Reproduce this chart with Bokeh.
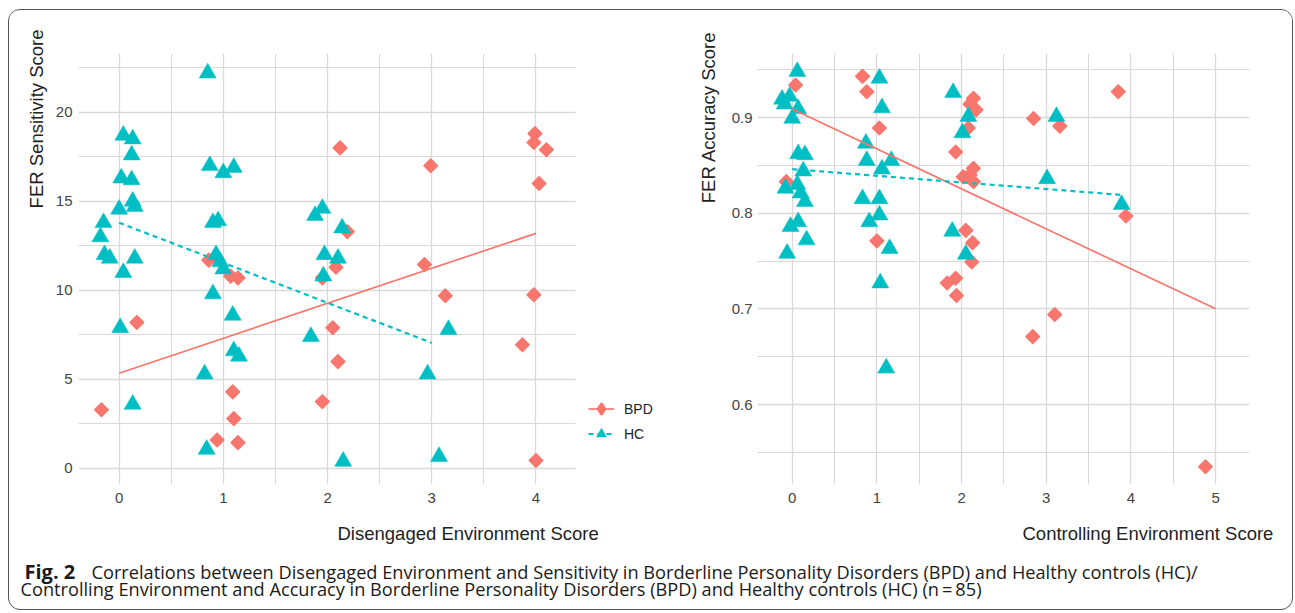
from math import pi
from bokeh.plotting import figure
from bokeh.models import (Range1d, FixedTicker, Label, Legend, LegendItem, Title)
from bokeh.layouts import row, column
from bokeh.embed import file_html
from bokeh.resources import INLINE

# ---------------- data ----------------
dis_bpd_x = [-0.17, 0.17, 0.86, 1.07, 1.14, 1.09, 1.10, 0.94, 1.14, 2.12, 2.99, 3.99, 3.98, 4.10,
             4.03, 2.19, 2.08, 1.95, 2.05, 2.10, 1.95, 2.93, 3.13, 3.98, 3.87, 4.00]
dis_bpd_y = [3.3, 8.2, 11.7, 10.8, 10.7, 4.3, 2.8, 1.6, 1.45, 18.0, 17.0, 18.8, 18.3, 17.9,
             16.0, 13.3, 11.3, 10.7, 7.9, 6.0, 3.75, 11.45, 9.7, 9.75, 6.95, 0.45]

dis_hc_x = [0.85, 0.04, 0.13, 0.12, 0.02, 0.12, 0.13, 0.15, 0.00, -0.15, -0.18, -0.14, -0.09,
            0.15, 0.04, 0.01, 0.13, 0.87, 1.00, 1.10, 0.90, 0.95, 0.93, 0.97, 1.00, 0.90, 1.09,
            1.10, 1.15, 0.82, 0.84, 1.88, 1.95, 1.97, 2.10, 2.14, 1.96, 1.84, 2.96, 3.16, 2.15, 3.07]
dis_hc_y = [22.2, 18.7, 18.5, 17.6, 16.3, 16.2, 15.0, 14.7, 14.55, 13.8, 13.0, 12.0, 11.8,
            11.8, 11.0, 7.9, 3.6, 17.0, 16.6, 16.9, 13.8, 13.9, 12.0, 11.6, 11.2, 9.8, 8.6,
            6.6, 6.3, 5.3, 1.07, 14.2, 14.6, 12.0, 11.8, 13.5, 10.8, 7.4, 5.3, 7.8, 0.4, 0.67]

dis_bpd_fit_x = [0, 4]
dis_bpd_fit_y = [5.35, 13.2]
dis_hc_fit_x = [0, 3]
dis_hc_fit_y = [13.8, 7.05]

ctl_bpd_x = [0.04, -0.07, 0.83, 0.88, 1.03, 1.00, 2.14, 2.10, 2.17, 2.08, 1.93, 2.14, 2.10, 2.02,
             2.14, 2.05, 2.13, 2.12, 1.83, 1.93, 1.94, 2.85, 3.16, 3.85, 3.94, 2.84, 3.10, 4.88]
ctl_bpd_y = [0.934, 0.833, 0.943, 0.927, 0.889, 0.771, 0.920, 0.914, 0.908, 0.889, 0.864, 0.847,
             0.840, 0.838, 0.833, 0.782, 0.769, 0.749, 0.727, 0.732, 0.714, 0.899, 0.891, 0.927,
             0.797, 0.671, 0.694, 0.535]

ctl_hc_x = [0.06, -0.03, -0.12, -0.09, 0.07, 0.00, 0.07, 0.15, 0.13, 0.06, -0.08, 0.10, 0.15,
            -0.02, 0.07, 0.17, -0.06, 1.03, 1.06, 0.87, 0.88, 1.06, 1.17, 0.83, 1.03, 1.03, 0.91,
            1.15, 1.04, 1.11, 1.90, 2.08, 2.01, 1.89, 2.05, 3.12, 3.01, 3.89]
ctl_hc_y = [0.948, 0.922, 0.919, 0.914, 0.909, 0.899, 0.862, 0.861, 0.844, 0.830, 0.826, 0.821,
            0.812, 0.786, 0.791, 0.772, 0.758, 0.941, 0.910, 0.873, 0.855, 0.846, 0.855, 0.815,
            0.815, 0.798, 0.791, 0.763, 0.727, 0.638, 0.926, 0.901, 0.884, 0.781, 0.757, 0.901,
            0.836, 0.809]

ctl_bpd_fit_x = [0, 5]
ctl_bpd_fit_y = [0.909, 0.700]
ctl_hc_fit_x = [0, 3.9]
ctl_hc_fit_y = [0.846, 0.819]

groups = ["BPD", "HC"]
left_x_ticks = [0, 1, 2, 3, 4]
left_x_minor = [-0.5, 0.5, 1.5, 2.5, 3.5]
left_y_ticks = [0, 5, 10, 15, 20]
left_y_minor = [2.5, 7.5, 12.5, 17.5, 22.5]
right_x_ticks = [0, 1, 2, 3, 4, 5]
right_x_minor = [-0.5, 0.5, 1.5, 2.5, 3.5, 4.5, 5.5]
right_y_ticks = [0.6, 0.7, 0.8, 0.9]
right_y_minor = [0.55, 0.65, 0.75, 0.85, 0.95]

LEFT_X_PANEL = (-0.39, 4.38)     # x extent of the left panel's grid
LEFT_X_FRAME_END = 5.243         # frame continues to the right to hold the legend

RED = "#F8766D"
TEAL = "#00BFC4"
GRID = "#d9d9d9"
FONT = "Liberation Sans"
FIG_H = 552
BORDER_TOP = 43
BORDER_BOTTOM = 78


def style(p, xt, xminor, yt, yminor, ystand):
    p.xaxis.ticker = FixedTicker(ticks=xt, minor_ticks=xminor)
    p.yaxis.ticker = FixedTicker(ticks=yt, minor_ticks=yminor)
    for ax in (p.xaxis, p.yaxis):
        ax.axis_line_color = None
        ax.major_tick_line_color = None
        ax.minor_tick_line_color = None
        ax.major_tick_out = 0
        ax.major_tick_in = 0
        ax.minor_tick_out = 0
        ax.major_label_text_font = FONT
        ax.major_label_text_font_size = "15px"
        ax.major_label_text_color = "#444444"
    p.xaxis.major_label_standoff = 8
    p.yaxis.major_label_standoff = ystand
    for g in (p.xgrid, p.ygrid):
        g.grid_line_color = GRID
        g.grid_line_width = 1.3
        g.minor_grid_line_color = GRID
        g.minor_grid_line_width = 1.0
    p.outline_line_color = None
    p.background_fill_color = "white"
    p.border_fill_color = "white"


def draw(p, bx, by, hx, hy, bfx, bfy, hfx, hfy):
    # legend key for BPD (zero-size marks: only the legend shows them)
    key = p.scatter(bx, by, marker="diamond", size=0, fill_color=RED, line_color=RED,
                    line_width=3, line_join="round")
    p.scatter(bx, by, marker="square", size=9.5, angle=pi / 4, fill_color=RED,
              line_color=RED, line_width=1.6, line_join="round")
    sh = p.scatter(hx, hy, marker="triangle", size=17, fill_color=TEAL, line_color=TEAL,
                   line_width=0.5)
    lb = p.line(bfx, bfy, line_color=RED, line_width=1.7)
    lh = p.line(hfx, hfy, line_color=TEAL, line_width=2.2, line_dash="5 4")
    return key, sh, lb, lh


def axis_titles(p, ytext, yoffset, ystandoff, xtext, xoffset, xstandoff):
    p.add_layout(Title(text=ytext, align="right", offset=yoffset, vertical_align="middle",
                       standoff=ystandoff, text_font=FONT, text_font_size="18.5px",
                       text_font_style="normal", text_color="#222222"), "left")
    p.add_layout(Title(text=xtext, align="left", offset=xoffset, vertical_align="middle",
                       standoff=xstandoff, text_font=FONT, text_font_size="18.5px",
                       text_font_style="normal", text_color="#222222"), "below")


# ---------------- left panel ----------------
p1 = figure(width=656, height=FIG_H, x_range=Range1d(LEFT_X_PANEL[0], LEFT_X_FRAME_END),
            y_range=Range1d(-0.9, 23.3), toolbar_location=None, output_backend="svg",
            min_border_left=69, min_border_right=0, min_border_top=BORDER_TOP,
            min_border_bottom=BORDER_BOTTOM)
style(p1, left_x_ticks, left_x_minor, left_y_ticks, left_y_minor, 6)
g = p1.ygrid[0]
if "cross_bounds" in g.properties():
    g.cross_bounds = LEFT_X_PANEL
else:
    g.visible = False
    yl = left_y_ticks + left_y_minor
    p1.segment(x0=[LEFT_X_PANEL[0]] * len(yl), x1=[LEFT_X_PANEL[1]] * len(yl), y0=yl, y1=yl,
               line_color=GRID, line_width=1.2, level="underlay")
key1, sh1, lb1, lh1 = draw(p1, dis_bpd_x, dis_bpd_y, dis_hc_x, dis_hc_y,
                           dis_bpd_fit_x, dis_bpd_fit_y, dis_hc_fit_x, dis_hc_fit_y)
axis_titles(p1, "FER Sensitivity Score", -24, 9, "Disengaged Environment Score", 259, 33)

legend = Legend(items=[LegendItem(label=groups[0], renderers=[lb1, key1]),
                       LegendItem(label=groups[1], renderers=[lh1, sh1])],
                location=(510, 38), border_line_color=None, background_fill_alpha=0,
                label_text_font=FONT, label_text_font_size="14px", label_text_color="#222222",
                glyph_width=26, glyph_height=25, spacing=0, padding=4, margin=0,
                label_standoff=10)
p1.add_layout(legend, "center")

# ---------------- right panel ----------------
p2 = figure(width=627, height=FIG_H, x_range=Range1d(-0.41, 5.40),
            y_range=Range1d(0.5164, 0.9669), toolbar_location=None, output_backend="svg",
            min_border_left=92, min_border_right=43, min_border_top=BORDER_TOP,
            min_border_bottom=BORDER_BOTTOM)
style(p2, right_x_ticks, right_x_minor, right_y_ticks, right_y_minor, 5)
draw(p2, ctl_bpd_x, ctl_bpd_y, ctl_hc_x, ctl_hc_y,
     ctl_bpd_fit_x, ctl_bpd_fit_y, ctl_hc_fit_x, ctl_hc_fit_y)
axis_titles(p2, "FER Accuracy Score", -22, 17, "Controlling Environment Score", 265, 33)

# ---------------- caption ----------------
CAP_H = 59
cap = figure(width=1283, height=CAP_H, x_range=Range1d(0, 1), y_range=Range1d(0, 1),
             toolbar_location=None, output_backend="svg", min_border=0,
             margin=(-12, 0, 0, 0))
cap.axis.visible = False
cap.grid.visible = False
cap.outline_line_color = None
cap.border_fill_alpha = 0
cap.background_fill_alpha = 0
CFONT = "Open Sans"
cap.add_layout(Label(x=15, y=38, x_units="screen", y_units="screen", text="Fig. 2",
                     text_font=CFONT, text_font_style="bold", text_font_size="20px",
                     text_baseline="alphabetic", text_color="#1a1a1a"))
cap.add_layout(Label(x=82, y=38, x_units="screen", y_units="screen",
                     text="Correlations between Disengaged Environment and Sensitivity in "
                          "Borderline Personality Disorders (BPD) and Healthy controls (HC)/",
                     text_font=CFONT, text_font_size="18.2px", text_baseline="alphabetic",
                     text_color="#1a1a1a"))
cap.add_layout(Label(x=11, y=21, x_units="screen", y_units="screen",
                     text="Controlling Environment and Accuracy in Borderline Personality "
                          "Disorders (BPD) and Healthy controls (HC) (n\u2009=\u200985)",
                     text_font=CFONT, text_font_size="18.2px", text_baseline="alphabetic",
                     text_color="#1a1a1a"))

layout = column(row(p1, p2), cap, margin=(9, 0, 0, 8),
                styles={"border": "1.5px solid #555555", "border-radius": "12px",
                        "overflow": "hidden"})

open("out.html", "w").write(file_html(layout, INLINE))
